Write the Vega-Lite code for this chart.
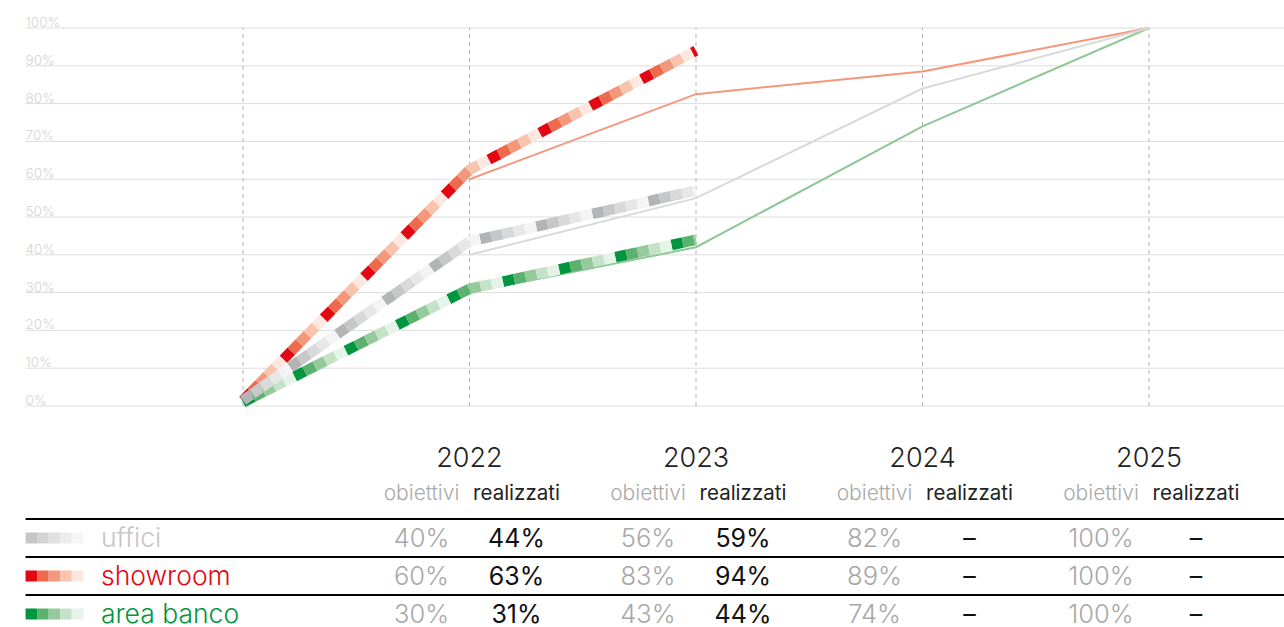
{
  "$schema": "https://vega.github.io/schema/vega-lite/v6.json",
  "width": 1284,
  "height": 627,
  "autosize": {"type": "none"},
  "padding": 0,
  "background": "white",
  "config": {"view": {"stroke": null}, "font": "Inter"},
  "datasets": {
    "griglia": [
      {"v": 0, "etichetta": "0%"}, {"v": 10, "etichetta": "10%"}, {"v": 20, "etichetta": "20%"},
      {"v": 30, "etichetta": "30%"}, {"v": 40, "etichetta": "40%"}, {"v": 50, "etichetta": "50%"},
      {"v": 60, "etichetta": "60%"}, {"v": 70, "etichetta": "70%"}, {"v": 80, "etichetta": "80%"},
      {"v": 90, "etichetta": "90%"}, {"v": 100, "etichetta": "100%"}
    ],
    "anni": [{"anno": 2021}, {"anno": 2022}, {"anno": 2023}, {"anno": 2024}, {"anno": 2025}],
    "intestazioni": [{"anno": 2022}, {"anno": 2023}, {"anno": 2024}, {"anno": 2025}],
    "obiettivi": [
      {"categoria": "showroom", "anno": 2022, "valore": 60},
      {"categoria": "showroom", "anno": 2023, "valore": 82.5},
      {"categoria": "showroom", "anno": 2024, "valore": 88.5},
      {"categoria": "showroom", "anno": 2025, "valore": 100},
      {"categoria": "area banco", "anno": 2022, "valore": 30},
      {"categoria": "area banco", "anno": 2023, "valore": 42},
      {"categoria": "area banco", "anno": 2024, "valore": 74},
      {"categoria": "area banco", "anno": 2025, "valore": 100},
      {"categoria": "uffici", "anno": 2022, "valore": 40},
      {"categoria": "uffici", "anno": 2023, "valore": 55},
      {"categoria": "uffici", "anno": 2024, "valore": 84},
      {"categoria": "uffici", "anno": 2025, "valore": 100}
    ],
    "realizzati": [
      {"categoria": "showroom", "anno": 2021, "valore": 1.5},
      {"categoria": "showroom", "anno": 2022, "valore": 62.5},
      {"categoria": "showroom", "anno": 2023, "valore": 94},
      {"categoria": "area banco", "anno": 2021, "valore": 1},
      {"categoria": "area banco", "anno": 2022, "valore": 31},
      {"categoria": "area banco", "anno": 2023, "valore": 44},
      {"categoria": "uffici", "anno": 2021, "valore": 1.5},
      {"categoria": "uffici", "anno": 2022, "valore": 43.5},
      {"categoria": "uffici", "anno": 2023, "valore": 57}
    ],
    "categorie": [{"categoria": "uffici"}, {"categoria": "showroom"}, {"categoria": "area banco"}],
    "tabella": [
      {"categoria": "uffici", "anno": 2022, "obiettivo": "40%", "realizzato": "44%"},
      {"categoria": "uffici", "anno": 2023, "obiettivo": "56%", "realizzato": "59%"},
      {"categoria": "uffici", "anno": 2024, "obiettivo": "82%", "realizzato": "–"},
      {"categoria": "uffici", "anno": 2025, "obiettivo": "100%", "realizzato": "–"},
      {"categoria": "showroom", "anno": 2022, "obiettivo": "60%", "realizzato": "63%"},
      {"categoria": "showroom", "anno": 2023, "obiettivo": "83%", "realizzato": "94%"},
      {"categoria": "showroom", "anno": 2024, "obiettivo": "89%", "realizzato": "–"},
      {"categoria": "showroom", "anno": 2025, "obiettivo": "100%", "realizzato": "–"},
      {"categoria": "area banco", "anno": 2022, "obiettivo": "30%", "realizzato": "31%"},
      {"categoria": "area banco", "anno": 2023, "obiettivo": "43%", "realizzato": "44%"},
      {"categoria": "area banco", "anno": 2024, "obiettivo": "74%", "realizzato": "–"},
      {"categoria": "area banco", "anno": 2025, "obiettivo": "100%", "realizzato": "–"}
    ]
  },
  "layer": [
    {
      "resolve": {"scale": {"color": "independent"}},
      "layer": [
        {
          "data": {"name": "griglia"},
          "mark": {"type": "rule", "color": "#dddddd", "strokeWidth": 1},
          "encoding": {
            "y": {"field": "v", "type": "quantitative", "scale": {"domain": [0, 100], "range": [406, 28], "nice": false}, "axis": null},
            "x": {"datum": 2020.04, "type": "quantitative", "scale": {"domain": [2021, 2025], "range": [243, 1149], "zero": false, "nice": false}, "axis": null},
            "x2": {"datum": 2025.6}
          }
        },
        {
          "data": {"name": "griglia"},
          "mark": {"type": "text", "align": "left", "baseline": "alphabetic", "dy": -1, "fontSize": 13.5, "fontWeight": 300, "color": "#d4d4d4"},
          "encoding": {
            "y": {"field": "v", "type": "quantitative", "axis": null},
            "x": {"datum": 2020.04, "type": "quantitative"},
            "text": {"field": "etichetta"}
          }
        },
        {
          "data": {"name": "anni"},
          "mark": {"type": "rule", "color": "#b5b5b5", "strokeWidth": 1, "strokeDash": [4, 4]},
          "encoding": {
            "x": {"field": "anno", "type": "quantitative"},
            "y": {"datum": 0, "type": "quantitative"},
            "y2": {"datum": 100}
          }
        },
        {
          "data": {"name": "obiettivi"},
          "mark": {"type": "line", "strokeWidth": 2},
          "encoding": {
            "x": {"field": "anno", "type": "quantitative"},
            "y": {"field": "valore", "type": "quantitative"},
            "color": {"field": "categoria", "type": "nominal", "legend": null, "scale": {"domain": ["uffici", "showroom", "area banco"], "range": ["#d9d9d9", "#f4977c", "#8fc796"]}}
          }
        },
        {
          "data": {"name": "realizzati"},
          "mark": {"type": "line", "strokeWidth": 10.5, "strokeCap": "butt", "strokeDash": [11.5, 46], "strokeDashOffset": 0},
          "encoding": {
            "x": {"field": "anno", "type": "quantitative"},
            "y": {"field": "valore", "type": "quantitative"},
            "color": {"field": "categoria", "type": "nominal", "legend": null, "scale": {"domain": ["uffici", "showroom", "area banco"], "range": ["#b2b4b6", "#e30613", "#009640"]}}
          }
        },
        {
          "data": {"name": "realizzati"},
          "mark": {"type": "line", "strokeWidth": 10.5, "strokeCap": "butt", "strokeDash": [11.5, 46], "strokeDashOffset": 46},
          "encoding": {
            "x": {"field": "anno", "type": "quantitative"},
            "y": {"field": "valore", "type": "quantitative"},
            "color": {"field": "categoria", "type": "nominal", "legend": null, "scale": {"domain": ["uffici", "showroom", "area banco"], "range": ["#c6c7c9", "#ee6a4c", "#5bb16e"]}}
          }
        },
        {
          "data": {"name": "realizzati"},
          "mark": {"type": "line", "strokeWidth": 10.5, "strokeCap": "butt", "strokeDash": [11.5, 46], "strokeDashOffset": 34.5},
          "encoding": {
            "x": {"field": "anno", "type": "quantitative"},
            "y": {"field": "valore", "type": "quantitative"},
            "color": {"field": "categoria", "type": "nominal", "legend": null, "scale": {"domain": ["uffici", "showroom", "area banco"], "range": ["#d8d9da", "#f4987b", "#95cb9b"]}}
          }
        },
        {
          "data": {"name": "realizzati"},
          "mark": {"type": "line", "strokeWidth": 10.5, "strokeCap": "butt", "strokeDash": [11.5, 46], "strokeDashOffset": 23},
          "encoding": {
            "x": {"field": "anno", "type": "quantitative"},
            "y": {"field": "valore", "type": "quantitative"},
            "color": {"field": "categoria", "type": "nominal", "legend": null, "scale": {"domain": ["uffici", "showroom", "area banco"], "range": ["#e7e7e8", "#f9c3ae", "#c4e2c7"]}}
          }
        },
        {
          "data": {"name": "realizzati"},
          "mark": {"type": "line", "strokeWidth": 10.5, "strokeCap": "butt", "strokeDash": [11.5, 46], "strokeDashOffset": 11.5},
          "encoding": {
            "x": {"field": "anno", "type": "quantitative"},
            "y": {"field": "valore", "type": "quantitative"},
            "color": {"field": "categoria", "type": "nominal", "legend": null, "scale": {"domain": ["uffici", "showroom", "area banco"], "range": ["#f4f4f4", "#fde8e0", "#e6f3e8"]}}
          }
        }
      ]
    },
    {
      "resolve": {"scale": {"color": "independent"}},
      "layer": [
        {
          "data": {"name": "categorie"},
          "mark": {"type": "rule", "color": "#000000", "strokeWidth": 2},
          "encoding": {
            "y": {"field": "categoria", "type": "nominal", "bandPosition": 0, "axis": null, "scale": {"type": "band", "domain": ["anni", "intestazione", "uffici", "showroom", "area banco"], "range": [443, 633], "paddingInner": 0, "paddingOuter": 0}},
            "x": {"datum": 2020.04, "type": "quantitative"},
            "x2": {"datum": 2025.6}
          }
        },
        {
          "data": {"name": "categorie"},
          "mark": {"type": "rule", "strokeWidth": 11, "strokeCap": "butt", "strokeDash": [11.55, 46.2], "strokeDashOffset": 0},
          "encoding": {
            "y": {"field": "categoria", "type": "nominal", "bandPosition": 0.5},
            "x": {"datum": 2020.04, "type": "quantitative"},
            "x2": {"datum": 2020.295},
            "color": {"field": "categoria", "type": "nominal", "legend": null, "scale": {"domain": ["uffici", "showroom", "area banco"], "range": ["#c6c6c6", "#e30613", "#009640"]}}
          }
        },
        {
          "data": {"name": "categorie"},
          "mark": {"type": "rule", "strokeWidth": 11, "strokeCap": "butt", "strokeDash": [11.55, 46.2], "strokeDashOffset": 46.2},
          "encoding": {
            "y": {"field": "categoria", "type": "nominal", "bandPosition": 0.5},
            "x": {"datum": 2020.04, "type": "quantitative"},
            "x2": {"datum": 2020.295},
            "color": {"field": "categoria", "type": "nominal", "legend": null, "scale": {"domain": ["uffici", "showroom", "area banco"], "range": ["#d4d4d4", "#ee6a4c", "#5bb16e"]}}
          }
        },
        {
          "data": {"name": "categorie"},
          "mark": {"type": "rule", "strokeWidth": 11, "strokeCap": "butt", "strokeDash": [11.55, 46.2], "strokeDashOffset": 34.65},
          "encoding": {
            "y": {"field": "categoria", "type": "nominal", "bandPosition": 0.5},
            "x": {"datum": 2020.04, "type": "quantitative"},
            "x2": {"datum": 2020.295},
            "color": {"field": "categoria", "type": "nominal", "legend": null, "scale": {"domain": ["uffici", "showroom", "area banco"], "range": ["#e0e0e0", "#f4987b", "#95cb9b"]}}
          }
        },
        {
          "data": {"name": "categorie"},
          "mark": {"type": "rule", "strokeWidth": 11, "strokeCap": "butt", "strokeDash": [11.55, 46.2], "strokeDashOffset": 23.1},
          "encoding": {
            "y": {"field": "categoria", "type": "nominal", "bandPosition": 0.5},
            "x": {"datum": 2020.04, "type": "quantitative"},
            "x2": {"datum": 2020.295},
            "color": {"field": "categoria", "type": "nominal", "legend": null, "scale": {"domain": ["uffici", "showroom", "area banco"], "range": ["#ececec", "#f9c3ae", "#c4e2c7"]}}
          }
        },
        {
          "data": {"name": "categorie"},
          "mark": {"type": "rule", "strokeWidth": 11, "strokeCap": "butt", "strokeDash": [11.55, 46.2], "strokeDashOffset": 11.55},
          "encoding": {
            "y": {"field": "categoria", "type": "nominal", "bandPosition": 0.5},
            "x": {"datum": 2020.04, "type": "quantitative"},
            "x2": {"datum": 2020.295},
            "color": {"field": "categoria", "type": "nominal", "legend": null, "scale": {"domain": ["uffici", "showroom", "area banco"], "range": ["#f6f6f6", "#fde8e0", "#e6f3e8"]}}
          }
        },
        {
          "data": {"name": "categorie"},
          "mark": {"type": "text", "align": "left", "fontSize": 26.5, "fontWeight": 300, "dy": 1},
          "encoding": {
            "y": {"field": "categoria", "type": "nominal"},
            "x": {"datum": 2020.373, "type": "quantitative"},
            "text": {"field": "categoria"},
            "color": {"field": "categoria", "type": "nominal", "legend": null, "scale": {"domain": ["uffici", "showroom", "area banco"], "range": ["#c6c6c6", "#e30613", "#009640"]}}
          }
        },
        {
          "data": {"name": "tabella"},
          "mark": {"type": "text", "align": "center", "fontSize": 25.5, "fontWeight": 300, "dx": -48, "dy": 1, "color": "#a8a8a8"},
          "encoding": {
            "y": {"field": "categoria", "type": "nominal"},
            "x": {"field": "anno", "type": "quantitative"},
            "text": {"field": "obiettivo"}
          }
        },
        {
          "data": {"name": "tabella"},
          "mark": {"type": "text", "align": "center", "fontSize": 25, "fontWeight": 400, "dx": 47, "dy": 1, "color": "#111111"},
          "encoding": {
            "y": {"field": "categoria", "type": "nominal"},
            "x": {"field": "anno", "type": "quantitative"},
            "text": {"field": "realizzato"}
          }
        },
        {
          "data": {"name": "intestazioni"},
          "mark": {"type": "text", "align": "center", "fontSize": 27, "fontWeight": 300, "dy": -3, "color": "#222222"},
          "encoding": {
            "y": {"datum": "anni", "type": "nominal"},
            "x": {"field": "anno", "type": "quantitative"},
            "text": {"field": "anno", "type": "nominal"}
          }
        },
        {
          "data": {"name": "intestazioni"},
          "mark": {"type": "text", "align": "center", "fontSize": 21, "fontWeight": 300, "dx": -48, "dy": -6, "color": "#aaaaaa", "text": "obiettivi"},
          "encoding": {
            "y": {"datum": "intestazione", "type": "nominal"},
            "x": {"field": "anno", "type": "quantitative"}
          }
        },
        {
          "data": {"name": "intestazioni"},
          "mark": {"type": "text", "align": "center", "fontSize": 20.5, "fontWeight": 400, "dx": 47, "dy": -6, "color": "#222222", "text": "realizzati"},
          "encoding": {
            "y": {"datum": "intestazione", "type": "nominal"},
            "x": {"field": "anno", "type": "quantitative"}
          }
        }
      ]
    }
  ],
  "resolve": {"scale": {"y": "independent", "color": "independent"}}
}
